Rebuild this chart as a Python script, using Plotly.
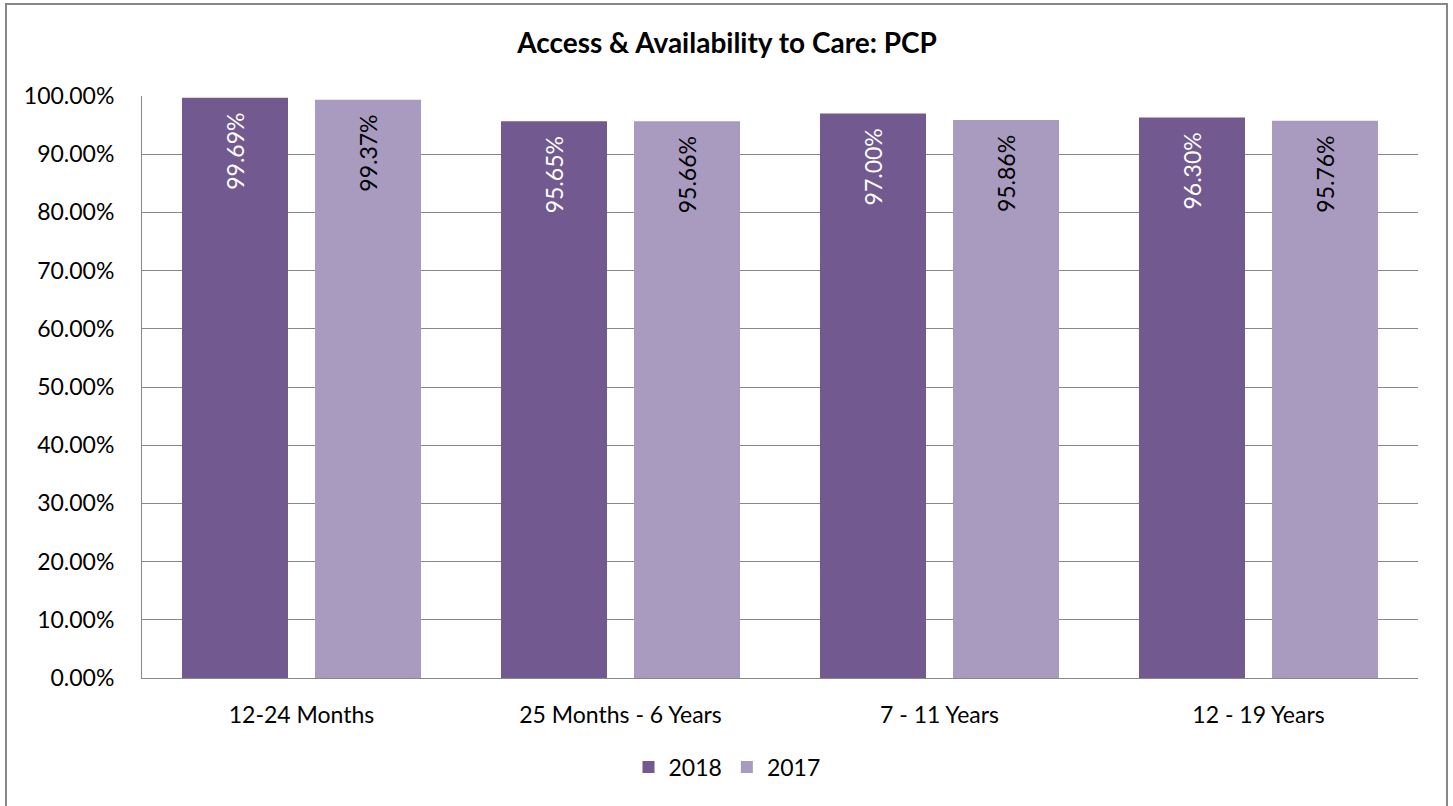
import plotly.graph_objects as go

categories = ["12-24 Months", "25 Months - 6 Years", "7 - 11 Years", "12 - 19 Years"]
vals_2018 = [0.9969, 0.9565, 0.9700, 0.9630]
vals_2017 = [0.9937, 0.9566, 0.9586, 0.9576]
y_ticks = [0, 0.1, 0.2, 0.3, 0.4, 0.5, 0.6, 0.7, 0.8, 0.9, 1.0]

W, H = 1453, 806
L, R, T, B = 142, 35, 96, 128
pw, ph = W - L - R, H - T - B

FONT = "Lato, Calibri, Carlito, sans-serif"
PAD = "\u00a0\u00a0"

fig = go.Figure()
fig.add_trace(go.Bar(
    name="2018", x=categories, y=vals_2018,
    marker=dict(color="#72598F", line=dict(width=0)),
    text=[f"{v*100:.2f}%{PAD}" for v in vals_2018],
    textposition="inside", insidetextanchor="end", textangle=-90,
    textfont=dict(color="white", size=23, family=FONT),
    hoverinfo="skip",
))
fig.add_trace(go.Bar(
    name="2017", x=categories, y=vals_2017,
    marker=dict(color="#A99ABF", line=dict(width=0)),
    text=[f"{v*100:.2f}%{PAD}" for v in vals_2017],
    textposition="inside", insidetextanchor="end", textangle=-90,
    textfont=dict(color="black", size=23, family=FONT),
    hoverinfo="skip",
))

def px_x(p):
    return (p - L) / pw

def px_y(p):
    return (H - B - p) / ph

fig.update_layout(
    width=W, height=H,
    margin=dict(l=L, r=R, t=T, b=B, autoexpand=False),
    paper_bgcolor="white", plot_bgcolor="white",
    barmode="group", bargap=0.166, bargroupgap=0.203,
    font=dict(family=FONT, size=23, color="black"),
    title=dict(text="<b>Access & Availability to Care: PCP</b>",
               x=727 / W, xref="container", xanchor="center",
               y=(H - 43) / H, yref="container", yanchor="middle",
               font=dict(size=28, family=FONT, color="black")),
    legend=dict(orientation="h", x=px_x(727), xanchor="center",
                y=px_y(767), yanchor="middle",
                font=dict(size=23, family=FONT), itemwidth=30,
                traceorder="normal"),
    uniformtext=dict(mode=False),
    shapes=[dict(type="rect", xref="paper", yref="paper",
                 x0=px_x(6), x1=px_x(1447), y0=px_y(815), y1=px_y(4),
                 line=dict(color="#878787", width=2), fillcolor="rgba(0,0,0,0)",
                 layer="below")],
)
fig.update_yaxes(range=[0, 1.0], tickvals=y_ticks, tickformat=".2%",
                 showgrid=True, gridcolor="#888888", gridwidth=1,
                 showline=True, linecolor="#888888", linewidth=1,
                 ticks="", ticklabelstandoff=22, zeroline=False,
                 tickfont=dict(size=23, family=FONT))
fig.update_xaxes(showline=True, linecolor="#888888", linewidth=1,
                 ticks="", ticklabelstandoff=16,
                 tickfont=dict(size=23, family=FONT))

fig.write_html("out.html", config={"displayModeBar": False},
               post_script="document.body.style.margin='0';document.body.style.overflow='hidden';")
